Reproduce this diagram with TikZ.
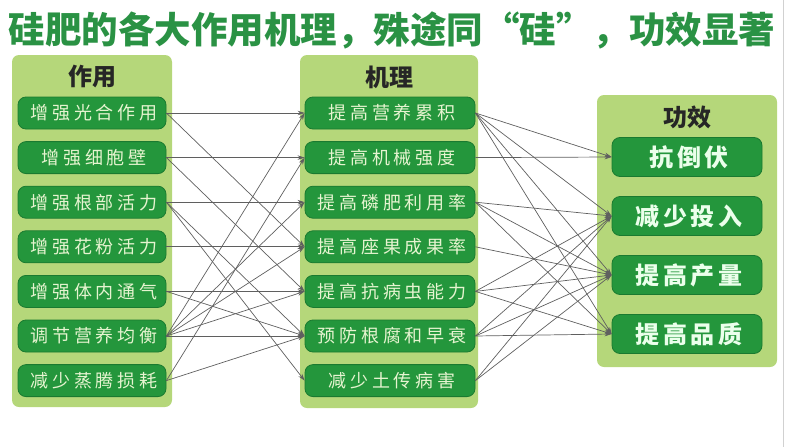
\documentclass[tikz,border=0pt]{standalone}
\usepackage{fontspec}
\newfontfamily\cjk{Noto Sans CJK SC}
\newfontfamily\cjkwide[LetterSpace=22]{Noto Sans CJK SC}
\newfontfamily\cjkbold[LetterSpace=16]{Noto Sans CJK SC}
\usetikzlibrary{arrows.meta}
\definecolor{panelgreen}{RGB}{181,215,122}
\definecolor{boxgreen}{RGB}{36,150,60}
\definecolor{boxedge}{RGB}{26,122,48}
\definecolor{titlegreen}{RGB}{42,146,68}
\definecolor{boxtext}{RGB}{230,244,208}
\definecolor{linkgray}{RGB}{95,95,95}
\tikzset{
	panel/.style={fill=panelgreen, rounded corners=7pt, inner sep=0pt},
	headtext/.style={text=black!85, font=\cjk\bfseries\fontsize{24}{24}\selectfont},
	titletext/.style={text=titlegreen, font=\cjk\bfseries\fontsize{36.5}{36.5}\selectfont},
	itembox/.style={fill=boxgreen, draw=boxedge, line width=.8pt, rounded corners=8pt,
		minimum height=32pt, inner sep=0pt, text=boxtext,
		font=\cjkwide\fontsize{18}{18}\selectfont},
	resultbox/.style={itembox, minimum width=150pt, minimum height=39pt, text=white!92!green,
		font=\cjkbold\bfseries\fontsize{24}{24}\selectfont},
	link/.style={draw=linkgray, line width=.7pt, -{Stealth[length=7pt, width=4.5pt]}}
}
\begin{document}
\begin{tikzpicture}[x=1pt, y=-1pt]
	\useasboundingbox (0,0) rectangle (800,447);
	\draw[black!18] (783,0) -- (783,447);
	\node[titletext] (biaoti) at (392,30) {硅肥的各大作用机理，殊途同“硅”，功效显著};
	% the three columns
	\node[panel, minimum width=160pt, minimum height=352pt] (zuoyong) at (92,231) {};
	\node[panel, minimum width=178pt, minimum height=353pt] (jili) at (389,231.5) {};
	\node[panel, minimum width=180pt, minimum height=272pt] (gongxiao) at (687,231) {};
	\node[headtext] (hz) at (92,76) {作用};
	\node[headtext] (hj) at (389,77) {机理};
	\node[headtext] (hg) at (687,117) {功效};
	\foreach\i/\t in{1/增强光合作用, 2/增强细胞壁, 3/增强根部活力, 4/增强花粉活力,
		5/增强体内通气, 6/调节营养均衡, 7/减少蒸腾损耗}{
		\node[itembox, minimum width=148pt] (z\i) at (92,{113+44.6*(\i-1)}) {\hspace*{4pt}\t};
	}
	\foreach\i/\t in{1/提高营养累积, 2/提高机械强度, 3/提高磷肥利用率, 4/提高座果成果率,
		5/提高抗病虫能力, 6/预防根腐和早衰, 7/减少土传病害}{
		\node[itembox, minimum width=170pt] (j\i) at (390,{113+44.6*(\i-1)}) {\hspace*{4pt}\t};
	}
	\foreach\i/\t in{1/抗倒伏, 2/减少投入, 3/提高产量, 4/提高品质}{
		\node[resultbox] (g\i) at (687,{157+59*(\i-1)}) {\hspace*{4pt}\t};
	}
	% arrows
	\foreach\a/\b in{1/1, 1/4, 2/2, 2/5, 3/3, 3/6, 3/7, 4/4, 5/5, 5/6,
		6/1, 6/3, 6/4, 6/5, 6/6, 7/2, 7/6}{
		\draw[link] (z\a.east) -- (j\b.west);
	}
	\foreach\a/\b in{1/1, 1/2, 1/3, 1/4, 2/1, 3/2, 3/3, 3/4, 4/3,
		5/2, 5/3, 5/4, 6/2, 6/3, 6/4, 7/2, 7/3}{
		\draw[link] (j\a.east) -- (g\b.west);
	}
\end{tikzpicture}
\end{document}
